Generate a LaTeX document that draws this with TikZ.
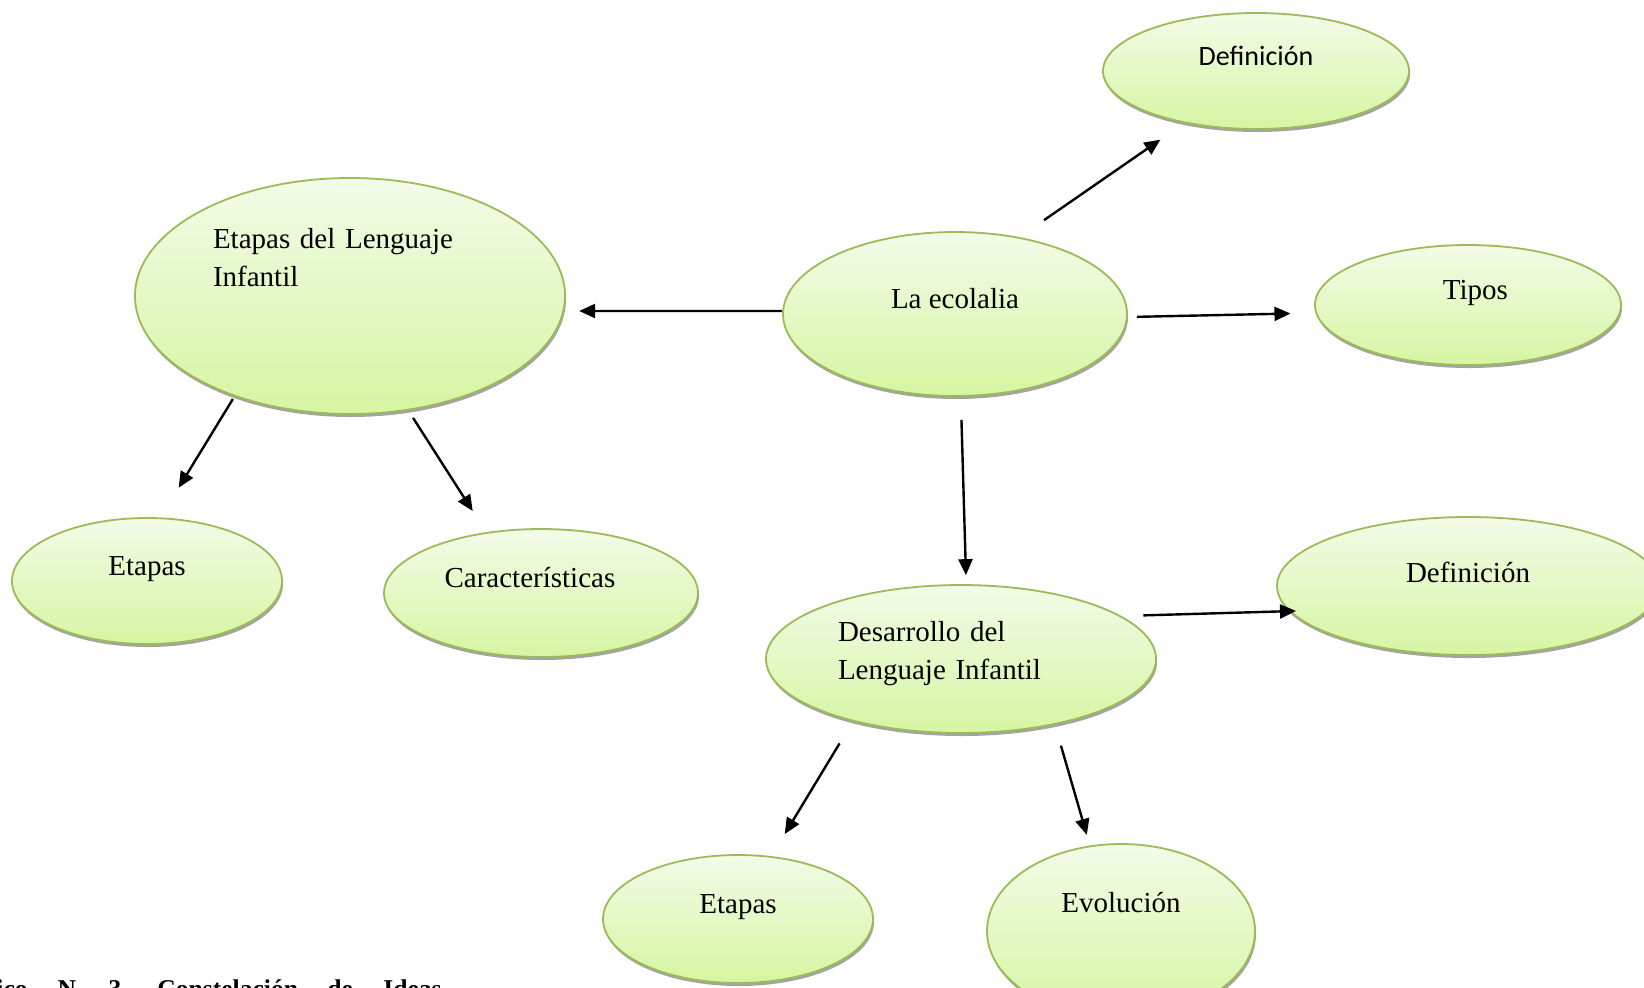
\documentclass[tikz,border=0pt]{standalone}
\usepackage{fontspec}
\setmainfont{Liberation Serif}
\newfontfamily\calibrifont{Carlito}
\usetikzlibrary{shapes.geometric,shadows,arrows.meta}
\definecolor{ideatop}{HTML}{F3FBE8}
\definecolor{ideabot}{HTML}{D6F5A2}
\definecolor{idealine}{HTML}{9BBB59}
\begin{document}
\begin{tikzpicture}[
          x=0.5pt, y=-0.5pt,
          idea/.style={ellipse, draw=idealine, line width=0.9pt,
            top color=ideatop, bottom color=ideabot, inner sep=0pt,
            font=\fontsize{14.5pt}{19.2pt}\selectfont,
            text height=10pt, text depth=16pt,
            drop shadow={shadow xshift=0.5pt, shadow yshift=-1.5pt, fill=black!40, opacity=0.9}},
          lift/.style={text depth=10pt+2*#1},
          arr/.style={-{Triangle[length=8pt,width=7pt]}, line width=1.2pt}
        ]
        \useasboundingbox (0,0) rectangle (1644,987);
        \node[idea, minimum width=172pt, minimum height=82pt] (eco) at (955,314) {La ecolalia};
        \node[idea, minimum width=153pt, minimum height=58pt,
          font=\calibrifont\fontsize{14pt}{17pt}\selectfont] (defa) at (1256,71) {Definición};
        \node[idea, minimum width=153pt, minimum height=60pt, text width=40pt, align=right] (tipos) at (1468,305) {Tipos};
        \node[idea, minimum width=215pt, minimum height=118pt, text width=137pt, align=left, lift=24pt] (etl) at (350,296)
          {Etapas del Lenguaje\\Infantil};
        \node[idea, minimum width=135pt, minimum height=63pt] (eta) at (147,581) {Etapas};
        \node[idea, minimum width=157pt, minimum height=64pt, text width=96.4pt, align=left] (car) at (541,593) {Características};
        \node[idea, minimum width=195pt, minimum height=74pt, text width=123pt, align=left, lift=9pt] (des) at (961,659)
          {Desarrollo del\\Lenguaje Infantil};
        \node[idea, minimum width=191pt, minimum height=69pt, lift=2pt] (defb) at (1468,586) {Definición};
        \node[idea, minimum width=135pt, minimum height=64pt] (etb) at (738,919) {Etapas};
        \node[idea, minimum width=134pt, minimum height=87pt, lift=9.5pt] (evo) at (1121,931) {Evolución};
        \node[anchor=base west, inner sep=0pt, font=\fontsize{12.8pt}{15pt}\selectfont\bfseries] (cap) at (-4,997)
          {ico\hspace{15pt}N\hspace{16.2pt}3\hspace{18pt}Constelación\hspace{14.6pt}de\hspace{15.2pt}Ideas};
        \draw[arr, shorten <=14.9pt, shorten >=14.5pt] (eco.50) -- (defa.216);
        \draw[arr, shorten <=4.5pt, shorten >=12.5pt] (eco.359) -- (tipos.183);
        \draw[arr, shorten >=7.5pt] (eco.179) -- (etl.356);
        \draw[arr, shorten <=11.5pt, shorten >=4.5pt] (eco.274) -- (des.86);
        \draw[arr, shorten <=1.5pt, shorten >=17.4pt] (etl.221) -- (eta.78);
        \draw[arr, shorten <=4.4pt, shorten >=12.5pt] (etl.297) -- (car.132);
        \draw[arr, shorten <=11pt, shorten >=-3.5pt] (des.15) -- (defb.188);
        \draw[arr, shorten <=12.8pt, shorten >=12.9pt] (des.210) -- (etb.62);
        \draw[arr, shorten <=10.9pt, shorten >=5.5pt] (des.325) -- (evo.110);
\end{tikzpicture}
\end{document}
